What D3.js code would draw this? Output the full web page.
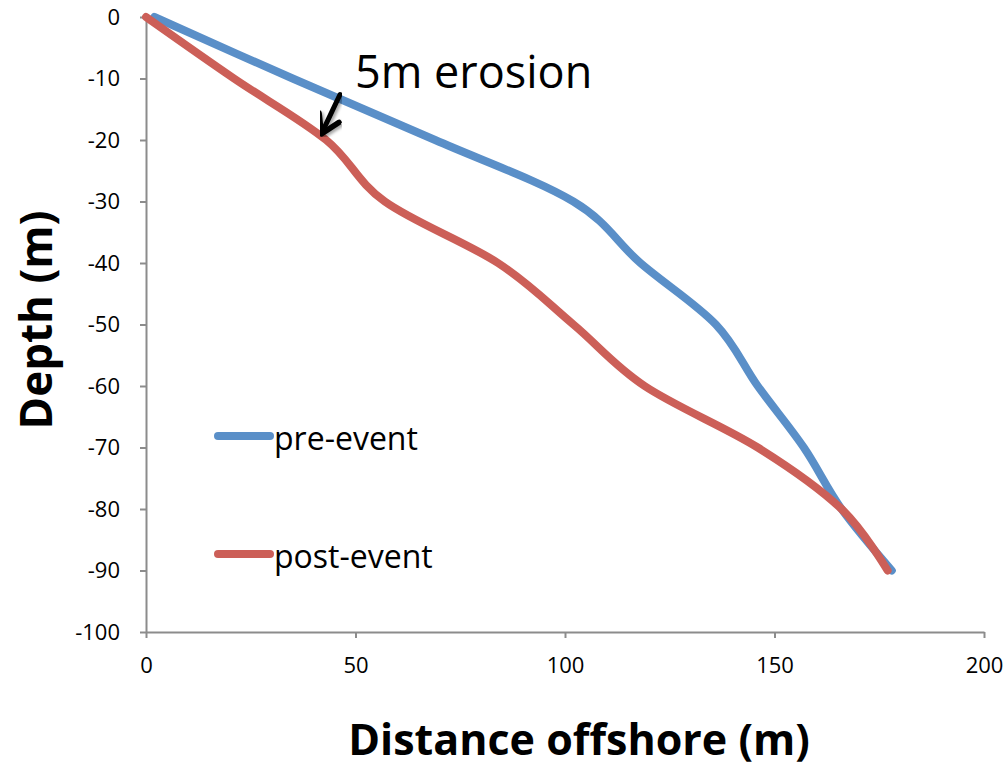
<!DOCTYPE html>
<html>
<head>
<meta charset="utf-8">
<script src="https://cdn.jsdelivr.net/npm/d3@7"></script>
<style>
  body { margin: 0; background: #fff; }
  svg { display: block; font-family: "Open Sans", "Noto Sans", sans-serif; }
</style>
</head>
<body>
<div id="chart"></div>
<script>
// Beach profile before / after the event (distance offshore vs depth)
const preDistance  = [2, 35, 69, 102, 118, 136, 146, 157, 166, 178];
const preDepth     = [0, -10, -20, -30, -40, -50, -60, -70, -80, -90];
const postDistance = [0, 21, 43, 57, 84, 102, 119, 146, 166, 177];
const postDepth    = [0, -10, -20, -30, -40, -50, -60, -70, -80, -90];
const xTicks = [0, 50, 100, 150, 200];
const yTicks = [0, -10, -20, -30, -40, -50, -60, -70, -80, -90, -100];
const seriesNames = ['pre-event', 'post-event'];
const seriesColors = ['#5A8FC8', '#CC5F58'];
const annotation = { text: '5m erosion', tail: [46.3, -12.6], tip: [42, -18.8] };

const width = 1006, height = 771;
const margin = { top: 17, right: 22, bottom: 139, left: 146 };

const svg = d3.select('#chart').append('svg')
  .attr('width', width)
  .attr('height', height);

const x = d3.scaleLinear()
  .domain([0, 200])
  .range([margin.left, width - margin.right]);
const y = d3.scaleLinear()
  .domain([-100, 0])
  .range([height - margin.bottom, margin.top]);

const axisColor = '#8c8c8c';
const fmt = d => String(d);

// Y axis
const yAxisG = svg.append('g')
  .attr('transform', `translate(${margin.left},0)`)
  .call(d3.axisLeft(y).tickValues(yTicks).tickFormat(fmt)
    .tickSize(6).tickSizeOuter(0).tickPadding(20));
// X axis
const xAxisG = svg.append('g')
  .attr('transform', `translate(0,${y(-100)})`)
  .call(d3.axisBottom(x).tickValues(xTicks).tickFormat(fmt)
    .tickSize(6).tickSizeOuter(0).tickPadding(19));

[yAxisG, xAxisG].forEach(g => {
  g.attr('font-size', 22);
  g.select('.domain').attr('stroke', axisColor).attr('stroke-width', 2);
  g.selectAll('.tick line').attr('stroke', axisColor).attr('stroke-width', 2);
  g.selectAll('.tick text')
    .attr('fill', '#000')
    .attr('font-size', '22px')
    .attr('font-family', '"Open Sans", "Noto Sans", sans-serif');
});

// Series lines
const series = [
  preDistance.map((d, i) => [d, preDepth[i]]),
  postDistance.map((d, i) => [d, postDepth[i]])
];
const line = d3.line()
  .x(d => x(d[0]))
  .y(d => y(d[1]))
  .curve(d3.curveCatmullRom.alpha(0));

svg.selectAll('path.series')
  .data(series)
  .join('path')
  .attr('class', 'series')
  .attr('d', line)
  .attr('fill', 'none')
  .attr('stroke', (d, i) => seriesColors[i])
  .attr('stroke-width', 8)
  .attr('stroke-linecap', 'round')
  .attr('stroke-linejoin', 'round');

// Legend
const legendY = [436, 554];
const legend = svg.selectAll('g.legend')
  .data(seriesNames)
  .join('g')
  .attr('class', 'legend')
  .attr('transform', (d, i) => `translate(218,${legendY[i]})`);
legend.append('line')
  .attr('x1', 0).attr('x2', 52)
  .attr('y1', 0).attr('y2', 0)
  .attr('stroke', (d, i) => seriesColors[i])
  .attr('stroke-width', 8)
  .attr('stroke-linecap', 'round');
legend.append('text')
  .attr('x', 56)
  .attr('y', 14)
  .attr('font-size', '32px')
  .attr('fill', '#000')
  .text(d => d);

// Annotation arrow
const defs = svg.append('defs');
defs.append('marker')
  .attr('id', 'arrowhead')
  .attr('viewBox', '0 0 10 10')
  .attr('refX', 7.5).attr('refY', 5)
  .attr('markerWidth', 5.5).attr('markerHeight', 5.5)
  .attr('orient', 'auto')
  .append('path')
  .attr('d', 'M1.5,1 L8,5 L1.5,9')
  .attr('fill', 'none')
  .attr('stroke', '#000')
  .attr('stroke-width', 2)
  .attr('stroke-linecap', 'round')
  .attr('stroke-linejoin', 'round');
defs.append('filter')
  .attr('id', 'shadow')
  .append('feDropShadow')
  .attr('dx', 2).attr('dy', 2).attr('stdDeviation', 1.5)
  .attr('flood-color', '#000').attr('flood-opacity', 0.35);

svg.append('line')
  .attr('x1', x(annotation.tail[0])).attr('y1', y(annotation.tail[1]))
  .attr('x2', x(annotation.tip[0])).attr('y2', y(annotation.tip[1]))
  .attr('stroke', '#000')
  .attr('stroke-width', 5)
  .attr('stroke-linecap', 'round')
  .attr('marker-end', 'url(#arrowhead)')
  .attr('filter', 'url(#shadow)');

svg.append('text')
  .attr('x', 355)
  .attr('y', 88)
  .attr('font-size', '45px')
  .attr('fill', '#000')
  .text(annotation.text);

// Axis titles
svg.append('text')
  .attr('transform', 'translate(52,320) rotate(-90)')
  .attr('text-anchor', 'middle')
  .attr('font-size', '44px')
  .attr('font-weight', 'bold')
  .attr('fill', '#000')
  .text('Depth (m)');

svg.append('text')
  .attr('x', 579)
  .attr('y', 755)
  .attr('text-anchor', 'middle')
  .attr('font-size', '43px')
  .attr('font-weight', 'bold')
  .attr('fill', '#000')
  .text('Distance offshore (m)');
</script>
</body>
</html>
